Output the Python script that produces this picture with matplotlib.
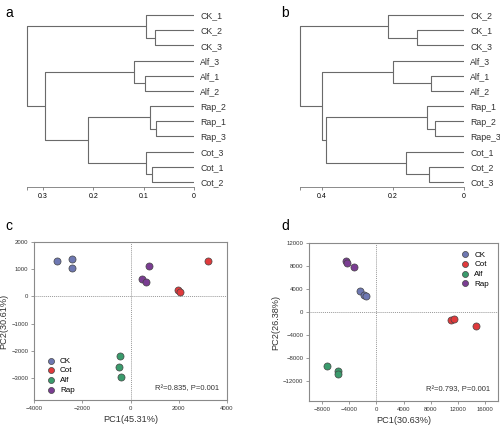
import matplotlib
matplotlib.use("Agg")
import matplotlib.pyplot as plt

plt.rcParams['font.family'] = ['Liberation Sans', 'DejaVu Sans']

# dendrograms: [left, right, height]
dend_a = [["CK_1", ["CK_2", "CK_3", 0.078], 0.095],
          [["Alf_3", ["Alf_1", "Alf_2", 0.097], 0.12],
           [["Rap_2", ["Rap_1", "Rap_3", 0.076], 0.088],
            ["Cot_3", ["Cot_1", "Cot_2", 0.084], 0.095], 0.211], 0.297], 0.333]
dend_b = [["CK_2", ["CK_1", "CK_3", 0.133], 0.213],
          [["Alf_3", ["Alf_1", "Alf_2", 0.094], 0.201],
           [["Rap_1", ["Rap_2", "Rape_3", 0.082], 0.103],
            ["Cot_1", ["Cot_2", "Cot_3", 0.098], 0.164], 0.389], 0.401], 0.462]
ticks_a = [0.3, 0.2, 0.1, 0]
ticks_b = [0.4, 0.2, 0]

groups = ["CK", "Cot", "Alf", "Rap"]
colors = ["#6e78b2", "#e03a3c", "#3a9b6c", "#7a3d92"]

# PCA c
c_x = {"CK": [-3030, -2440, -2440], "Cot": [3230, 1970, 2070],
       "Alf": [-455, -485, -385], "Rap": [760, 480, 650]}
c_y = {"CK": [1290, 1385, 1030], "Cot": [1310, 220, 160],
       "Alf": [-2170, -2590, -2970], "Rap": [1115, 640, 540]}
# PCA d
d_x = {"CK": [-2350, -1860, -1570], "Cot": [10980, 11420, 14700],
       "Alf": [-7200, -5690, -5690], "Rap": [-4460, -4270, -3330]}
d_y = {"CK": [3700, 3000, 2890], "Cot": [-1330, -1160, -2370],
       "Alf": [-9360, -10230, -10690], "Rap": [8900, 8610, 7920]}

fig = plt.figure(figsize=(5, 4.26), dpi=100)


def px_axes(l, t, r, b):
    return fig.add_axes([l / 500, 1 - b / 426, (r - l) / 500, (b - t) / 426])


def draw_tree(ax, node, leaves):
    # returns (y, height) of this node
    if isinstance(node, str):
        leaves.append(node)
        return len(leaves) - 1, 0.0
    y1, h1 = draw_tree(ax, node[0], leaves)
    y2, h2 = draw_tree(ax, node[1], leaves)
    h = node[2]
    ax.plot([h1, h, h, h2], [y1, y1, y2, y2], color="#6a6a6a", lw=0.8,
            solid_capstyle="butt")
    return (y1 + y2) / 2, h


def dendro(ax, tree, xmax, ticks):
    leaves = []
    draw_tree(ax, tree, leaves)
    ax.set_xlim(xmax, 0)
    ax.set_ylim(len(leaves) - 1 + 0.33, -0.66)
    for s in ["top", "left", "right"]:
        ax.spines[s].set_visible(False)
    ax.spines["bottom"].set_bounds(0, tree[2])
    ax.spines["bottom"].set_color("#777777")
    ax.spines["bottom"].set_linewidth(0.6)
    ax.set_xticks(ticks + [tree[2]])
    ax.set_xticklabels([str(t) for t in ticks] + [""])
    ax.tick_params(axis="x", labelsize=5, length=2, width=0.6,
                   color="#777777", pad=2)
    ax.yaxis.tick_right()
    ax.set_yticks(range(len(leaves)))
    ax.set_yticklabels(leaves)
    ax.tick_params(axis="y", length=0, pad=4.5, labelsize=6.3,
                   labelcolor="#333333")


ax_a = px_axes(18, 5, 194, 187)
dendro(ax_a, dend_a, 0.35, ticks_a)
ax_b = px_axes(286.5, 5, 464, 187)
dendro(ax_b, dend_b, 0.5, ticks_b)


def pca(ax, xs, ys, xlim, ylim, xt, yt, xl, yl, note, leg_loc, leg_anchor):
    ax.axvline(0, color="#999999", lw=0.7, ls=(0, (1, 1)), zorder=0)
    ax.axhline(0, color="#999999", lw=0.7, ls=(0, (1, 1)), zorder=0)
    for g, c in zip(groups, colors):
        ax.scatter(xs[g], ys[g], s=26, color=c, edgecolor="#444444",
                   linewidth=0.5, label=g, zorder=3)
    ax.set_xlim(*xlim)
    ax.set_ylim(*ylim)
    ax.set_xticks(xt)
    ax.set_yticks(yt)
    for s in ax.spines.values():
        s.set_color("#8a8a8a")
        s.set_linewidth(0.8)
    ax.tick_params(labelsize=4.3, length=2, width=0.6, color="#8a8a8a",
                   pad=2, labelcolor="#333333")
    ax.set_xlabel(xl, fontsize=6.6, labelpad=3, color="#333333")
    ax.set_ylabel(yl, fontsize=6.6, labelpad=2, color="#333333")
    ax.text(0.96, 0.05, note, transform=ax.transAxes, ha="right",
            va="bottom", fontsize=5.5, color="#333333")
    ax.legend(loc=leg_loc, bbox_to_anchor=leg_anchor, frameon=False,
              fontsize=5.8, handletextpad=0.1, labelspacing=0.25,
              markerscale=0.85, borderaxespad=0)


ax_c = px_axes(34, 242, 227, 400)
pca(ax_c, c_x, c_y, (-4000, 4000), (-3800, 2000),
    [-4000, -2000, 0, 2000, 4000], [2000, 1000, 0, -1000, -2000, -3000],
    "PC1(45.31%)", "PC2(30.61%)", "R²=0.835, P=0.001",
    "lower left", (0.03, 0.02))

ax_d = px_axes(309, 243, 498, 401)
pca(ax_d, d_x, d_y, (-9900, 17900), (-15400, 12000),
    [-8000, -4000, 0, 4000, 8000, 12000, 16000],
    [12000, 8000, 4000, 0, -4000, -8000, -12000],
    "PC1(30.63%)", "PC2(26.38%)", "R²=0.793, P=0.001",
    "upper right", (0.97, 0.97))

for lab, x, y in [("a", 5, 13), ("b", 281, 13), ("c", 5, 226), ("d", 281, 226)]:
    fig.text(x / 500, 1 - y / 426, lab, fontsize=10, va="center", ha="left")

fig.savefig("out.png", dpi=100)
